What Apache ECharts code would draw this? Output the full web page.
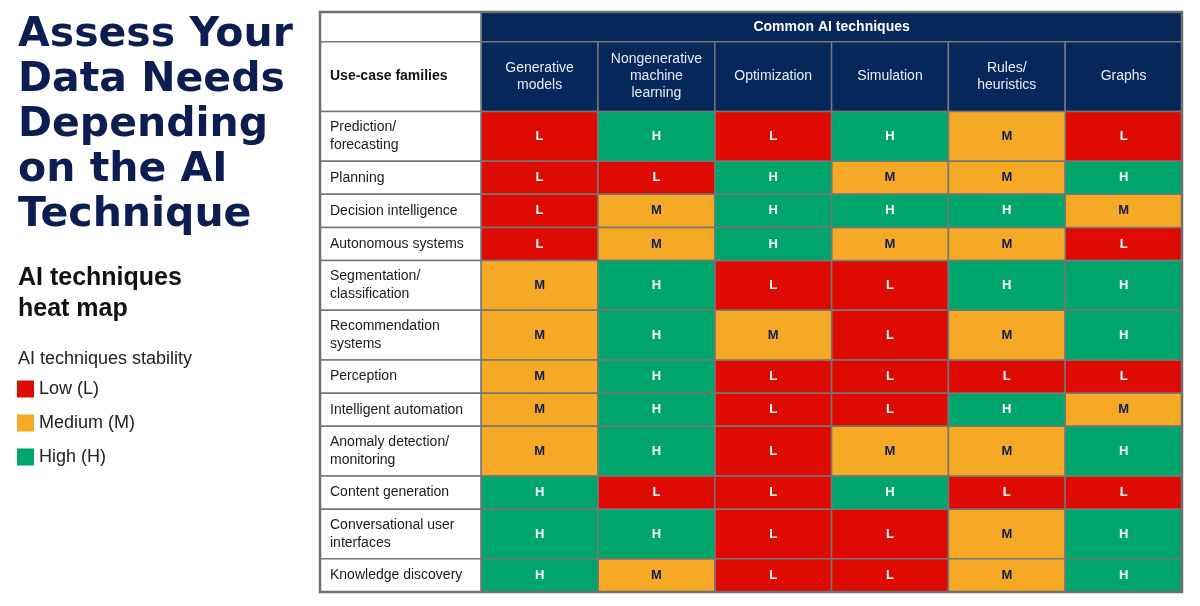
<!DOCTYPE html>
<html>
<head>
<meta charset="utf-8">
<script src="https://cdn.jsdelivr.net/npm/echarts@6/dist/echarts.min.js"></script>
<style>
  html, body { margin: 0; padding: 0; background: #fff; }
  #main { width: 1200px; height: 606px; }
</style>
</head>
<body>
<div id="main"></div>
<script>
// AI techniques heat map

var techniques = ['Generative\nmodels', 'Nongenerative\nmachine\nlearning', 'Optimization', 'Simulation', 'Rules/\nheuristics', 'Graphs'];

var useCases = [
  'Prediction/\nforecasting',
  'Planning',
  'Decision intelligence',
  'Autonomous systems',
  'Segmentation/\nclassification',
  'Recommendation\nsystems',
  'Perception',
  'Intelligent automation',
  'Anomaly detection/\nmonitoring',
  'Content generation',
  'Conversational user\ninterfaces',
  'Knowledge discovery'
];

// one row per use case, one column per technique
var ratings = [
  ['L', 'H', 'L', 'H', 'M', 'L'],
  ['L', 'L', 'H', 'M', 'M', 'H'],
  ['L', 'M', 'H', 'H', 'H', 'M'],
  ['L', 'M', 'H', 'M', 'M', 'L'],
  ['M', 'H', 'L', 'L', 'H', 'H'],
  ['M', 'H', 'M', 'L', 'M', 'H'],
  ['M', 'H', 'L', 'L', 'L', 'L'],
  ['M', 'H', 'L', 'L', 'H', 'M'],
  ['M', 'H', 'L', 'M', 'M', 'H'],
  ['H', 'L', 'L', 'H', 'L', 'L'],
  ['H', 'H', 'L', 'L', 'M', 'H'],
  ['H', 'M', 'L', 'L', 'M', 'H']
];

var levels = ['L', 'M', 'H'];
var levelNames = ['Low (L)', 'Medium (M)', 'High (H)'];

var levelColors = ['#dd0b02', '#f5a924', '#00a56c'];
var levelText = ['#ffffff', '#0b1d51', '#ffffff'];
var navy = '#05275a';
var lineColor = '#777777';
var FONT = '"Liberation Sans", Arial, sans-serif';

// two-line labels make taller rows
var rowStart = [], rowEnd = [];
var acc = 0;
useCases.forEach(function (u) {
  rowStart.push(acc);
  acc += u.indexOf('\n') >= 0 ? 1.5 : 1;
  rowEnd.push(acc);
});
var totalRows = acc;

var HEAD1 = 0.9;     // "Common AI techniques" band
var HEAD_ALL = 3.0;  // both header rows
var LABEL_COL = 1.38; // width of label column, in technique columns

function rectFrom(api, x0, y0, x1, y1) {
  var p0 = api.coord([x0, y0]);
  var p1 = api.coord([x1, y1]);
  return { x: p0[0], y: p0[1], width: p1[0] - p0[0], height: p1[1] - p0[1] };
}

function cellSeries(li) {
  var data = [];
  ratings.forEach(function (row, r) {
    row.forEach(function (v, c) {
      if (v === levels[li]) data.push([c, rowStart[r], rowEnd[r]]);
    });
  });
  return {
    name: levelNames[li],
    type: 'custom',
    itemStyle: { color: levelColors[li] },
    encode: { x: 0, y: [1, 2] },
    z: 3,
    renderItem: function (params, api) {
      var s = rectFrom(api, api.value(0), api.value(1), api.value(0) + 1, api.value(2));
      return {
        type: 'group',
        children: [
          { type: 'rect', shape: s, style: { fill: levelColors[li], stroke: lineColor, lineWidth: 1.5 } },
          {
            type: 'text',
            style: {
              text: levels[li], x: s.x + s.width / 2, y: s.y + s.height / 2,
              align: 'center', verticalAlign: 'middle', fill: levelText[li],
              font: 'bold 13px ' + FONT
            }
          }
        ]
      };
    },
    data: data
  };
}

var labelSeries = {
  type: 'custom',
  silent: true,
  z: 2,
  renderItem: function (params, api) {
    var i = params.dataIndex;
    var s = rectFrom(api, -LABEL_COL, rowStart[i], 0, rowEnd[i]);
    return {
      type: 'group',
      children: [
        { type: 'rect', shape: s, style: { fill: '#ffffff', stroke: lineColor, lineWidth: 1.5 } },
        {
          type: 'text',
          style: {
            text: useCases[i], x: s.x + 10, y: s.y + s.height / 2,
            align: 'left', verticalAlign: 'middle', fill: '#1a1a1a',
            font: '14px ' + FONT, lineHeight: 18
          }
        }
      ]
    };
  },
  data: useCases.map(function (u, i) { return [-LABEL_COL, rowStart[i], rowEnd[i]]; })
};

var headerSeries = {
  type: 'custom',
  silent: true,
  z: 2,
  renderItem: function (params, api) {
    var c = params.dataIndex;
    var s = rectFrom(api, c, -HEAD_ALL + HEAD1, c + 1, 0);
    return {
      type: 'group',
      children: [
        { type: 'rect', shape: s, style: { fill: navy, stroke: lineColor, lineWidth: 1.5 } },
        {
          type: 'text',
          style: {
            text: techniques[c], x: s.x + s.width / 2, y: s.y + s.height / 2,
            align: 'center', verticalAlign: 'middle', fill: '#e8edf5',
            font: '14px ' + FONT, lineHeight: 17
          }
        }
      ]
    };
  },
  data: techniques.map(function (t, c) { return [c, -HEAD_ALL + HEAD1, 0]; })
};

var frameSeries = {
  type: 'custom',
  silent: true,
  z: 2,
  renderItem: function (params, api) {
    var band = rectFrom(api, 0, -HEAD_ALL, techniques.length, -HEAD_ALL + HEAD1);
    var blank = rectFrom(api, -LABEL_COL, -HEAD_ALL, 0, -HEAD_ALL + HEAD1);
    var ucase = rectFrom(api, -LABEL_COL, -HEAD_ALL + HEAD1, 0, 0);
    return {
      type: 'group',
      children: [
        { type: 'rect', shape: blank, style: { fill: '#ffffff', stroke: lineColor, lineWidth: 1.5 } },
        { type: 'rect', shape: band, style: { fill: navy, stroke: lineColor, lineWidth: 1.5 } },
        {
          type: 'text',
          style: {
            text: 'Common AI techniques', x: band.x + band.width / 2, y: band.y + band.height / 2,
            align: 'center', verticalAlign: 'middle', fill: '#ffffff', font: 'bold 14px ' + FONT
          }
        },
        { type: 'rect', shape: ucase, style: { fill: '#ffffff', stroke: lineColor, lineWidth: 1.5 } },
        {
          type: 'text',
          style: {
            text: 'Use-case families', x: ucase.x + 10, y: ucase.y + ucase.height / 2,
            align: 'left', verticalAlign: 'middle', fill: '#111111', font: 'bold 14px ' + FONT
          }
        }
      ]
    };
  },
  data: [[0, -HEAD_ALL, 0]]
};

var borderSeries = {
  type: 'custom',
  silent: true,
  z: 10,
  renderItem: function (params, api) {
    var s = rectFrom(api, -LABEL_COL, -HEAD_ALL, techniques.length, totalRows);
    return { type: 'rect', shape: s, style: { fill: null, stroke: '#6f6f6f', lineWidth: 2.5 } };
  },
  data: [[0, 0]]
};

var chartDom = document.getElementById('main');
var myChart = echarts.init(chartDom);
var option;

option = {
  animation: false,
  backgroundColor: '#ffffff',
  title: [
    {
      text: 'Assess Your\nData Needs\nDepending\non the AI\nTechnique',
      left: 13, top: 8,
      textStyle: { fontFamily: '"DejaVu Sans", sans-serif', fontWeight: 'bold', fontSize: 41, lineHeight: 45, color: '#0b1d51' }
    },
    {
      text: 'AI techniques\nheat map',
      left: 13, top: 258,
      textStyle: { fontFamily: FONT, fontWeight: 'bold', fontSize: 25, lineHeight: 31, color: '#111111' }
    },
    {
      text: 'AI techniques stability',
      left: 13, top: 344,
      textStyle: { fontFamily: FONT, fontWeight: 'normal', fontSize: 18, lineHeight: 20, color: '#222222' }
    }
  ],
  legend: {
    orient: 'vertical',
    left: 17,
    top: 380,
    padding: 0,
    icon: 'rect',
    itemWidth: 17,
    itemHeight: 17,
    itemGap: 16,
    selectedMode: false,
    data: levelNames,
    textStyle: { fontFamily: FONT, fontSize: 18, color: '#222222' }
  },
  tooltip: {
    trigger: 'item',
    formatter: function (p) { return p.seriesName; }
  },
  grid: { left: 320, right: 18, top: 12, bottom: 14 },
  xAxis: { type: 'value', min: -LABEL_COL, max: techniques.length, show: false },
  yAxis: { type: 'value', inverse: true, min: -HEAD_ALL, max: totalRows, show: false },
  series: [frameSeries, headerSeries, labelSeries]
    .concat(levels.map(function (l, i) { return cellSeries(i); }))
    .concat([borderSeries])
};

option && myChart.setOption(option);
</script>
</body>
</html>
